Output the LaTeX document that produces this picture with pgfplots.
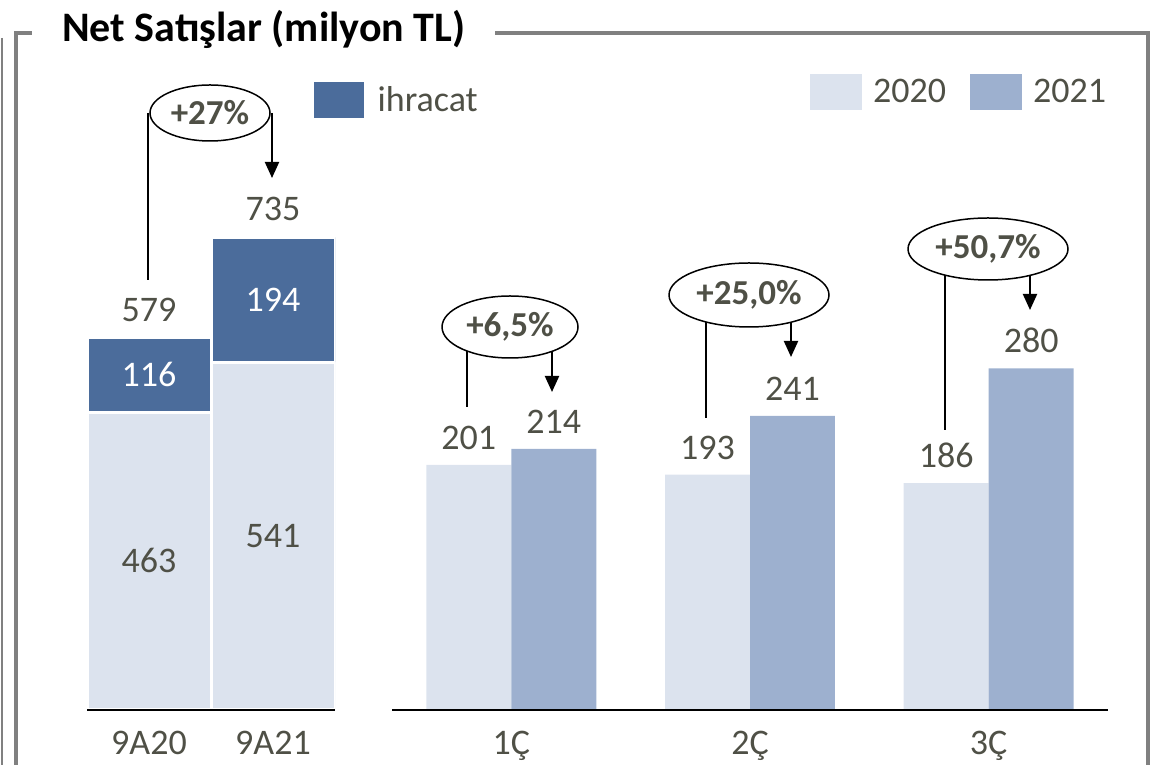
\documentclass[border=0pt]{standalone}
\usepackage{fontspec}
\setmainfont{Carlito}
\usepackage{pgfplots}
\pgfplotsset{compat=1.18}
\usetikzlibrary{arrows.meta,shapes.geometric}
\definecolor{c20}{RGB}{220,227,238}
\definecolor{c21}{RGB}{157,176,207}
\definecolor{cex}{RGB}{75,108,155}
\definecolor{tg}{RGB}{79,80,70}
\definecolor{fr}{RGB}{128,128,128}
\newcommand{\lf}{\fontsize{36}{40}\selectfont}
\tikzset{lab/.style={font=\lf, text=tg, anchor=center, text height=23pt, text depth=0pt}}
\begin{document}
\begin{tikzpicture}
\path[use as bounding box] (0pt,0pt) rectangle (1162pt,765pt);

% ---------- left axis: 9 months, stacked ----------
\begin{axis}[
  at={(87pt,55pt)}, anchor=south west,
  scale only axis, width=248pt, height=643pt,
  xmin=-0.5, xmax=1.5, ymin=0, ymax=1000,
  ybar stacked, bar width=1, reverse stacked plots=false,
  axis x line*=bottom, axis y line=none,
  x axis line style={black, line width=2pt},
  axis on top,
  xtick={0,1}, xticklabels={9A20,9A21},
  major tick length=0pt,
  xticklabel style={font=\lf, text=tg, anchor=center, text height=23pt, text depth=0pt, yshift=-33pt},
  legend style={at={(0.915,0.9487)}, anchor=west, draw=none, fill=none, inner sep=0pt, font=\lf, text=tg},
  legend image code/.code={\fill[#1,draw=none] (0pt,-18pt) rectangle (50pt,18pt); \path (60pt,0pt);},
]
\addplot[fill=c20, draw=white, line width=3pt, forget plot] coordinates {(0,463) (1,541)};
\addplot[fill=cex, draw=white, line width=3pt] coordinates {(0,116) (1,194)};
\addlegendentry{ihracat}
\node[lab] at (axis cs:0,231.5) {463};
\node[lab] at (axis cs:1,270.5) {541};
\node[lab, text=white] at (axis cs:0,521) {116};
\node[lab, text=white] at (axis cs:1,638) {194};
\node[lab, yshift=28pt] at (axis cs:0,579) {579};
\node[lab, yshift=28pt] at (axis cs:1,735) {735};
\end{axis}

% ---------- right axis: quarters ----------
\begin{axis}[
  at={(392pt,55pt)}, anchor=south west,
  scale only axis, width=716pt, height=610pt,
  xmin=0.5, xmax=3.5, ymin=0, ymax=500,
  ybar=0pt, bar width=0.356,
  axis x line*=bottom, axis y line=none,
  x axis line style={black, line width=2pt},
  axis on top,
  xtick={1,2,3}, xticklabels={1Ç,2Ç,3Ç},
  major tick length=0pt,
  xticklabel style={font=\lf, text=tg, anchor=center, text height=23pt, text depth=0pt, yshift=-33pt},
  /pgf/number format/assume math mode=true,
  nodes near coords,
  nodes near coords style={font=\lf, text=tg, anchor=center, text height=23pt, text depth=0pt, yshift=27pt},
  legend columns=2,
  legend style={at={(0.5838,1.013)}, anchor=west, draw=none, fill=none, inner sep=0pt, font=\lf, text=tg,
    /tikz/every even column/.append style={column sep=22pt}},
  legend image code/.code={\fill[#1,draw=none] (0pt,-18pt) rectangle (52pt,18pt); \path (61pt,0pt);},
]
\addplot[fill=c20, draw=none, bar shift=-0.178] coordinates {(1,201) (2,193) (3,186)};
\addlegendentry{2020}
\addplot[fill=c21, draw=none, bar shift=0.178] coordinates {(1,214) (2,241) (3,280)};
\addlegendentry{2021}
\end{axis}

% ---------- frame, title, annotations (image pixel coordinates) ----------
\begin{scope}[shift={(0pt,765pt)}, x=1pt, y=-1pt]
\draw[fr, line width=4pt] (16,775) -- (16,33) -- (32,33);
\draw[fr, line width=4pt] (495,33) -- (1148,33) -- (1148,775);
\draw[fr, line width=1.5pt] (2,38) -- (2,775);
\node[anchor=base west, inner sep=0pt, font=\bfseries\fontsize{42}{48}\selectfont] at (62,42) {Net Satışlar (milyon TL)};

\tikzset{pct/.style={ellipse, draw=black, line width=1.5pt, fill=white, inner sep=0pt,
   font=\bfseries\fontsize{35}{40}\selectfont, text=tg},
  ln/.style={line width=2pt}, arr/.style={line width=2pt, -{Triangle[width=14pt,length=16pt]}}}

\draw[ln] (148,113) -- (148,280);
\draw[arr] (272,113) -- (272,178);
\node[pct, minimum width=120pt, minimum height=56pt] at (210,113) {+27\%};

\draw[ln] (467,335) -- (467,407);
\draw[arr] (552,335) -- (552,392);
\node[pct, minimum width=136pt, minimum height=62pt] at (510,327) {+6,5\%};

\draw[ln] (706,305) -- (706,418);
\draw[arr] (791,305) -- (791,357);
\node[pct, minimum width=160pt, minimum height=64pt] at (749,295) {+25,0\%};

\draw[ln] (945,258) -- (945,430);
\draw[arr] (1030,258) -- (1030,310);
\node[pct, minimum width=160pt, minimum height=62pt] at (988,249) {+50,7\%};
\end{scope}
\end{tikzpicture}
\end{document}
